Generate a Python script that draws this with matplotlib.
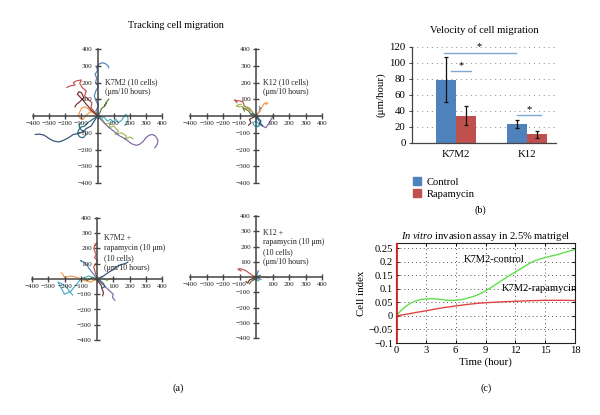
import matplotlib
matplotlib.use("Agg")
import matplotlib.pyplot as plt
from matplotlib.patches import Patch
import numpy as np

plt.rcParams['font.family'] = ['Liberation Serif', 'DejaVu Serif']
plt.rcParams['mathtext.fontset'] = 'custom'
plt.rcParams['mathtext.rm'] = 'Liberation Serif'
plt.rcParams['mathtext.it'] = 'Liberation Serif:italic'

# ---------------- data ----------------
track_ticks = [-400, -300, -200, -100, 0, 100, 200, 300, 400]
track_colors = ['#4F81BD', '#C0504D', '#9BBB59', '#8064A2', '#4BACC6',
                '#F79646', '#2C4D75', '#772C2A', '#5F7530', '#276A7C']

# (x list, y list) per cell, micrometres over 10 hours
k7m2_tracks = [
    ([0, -10, 5, -8, -20, -10, 5, -12, -5, -15, 0, -5, 10, 30, 50, 65, 70],
     [0, 30, 60, 90, 120, 150, 175, 200, 225, 250, 270, 290, 310, 318, 312, 300, 288]),
    ([0, -20, -40, -35, -60, -80, -70, -95, -110, -100, -130, -150, -140, -170, -190],
     [0, 25, 50, 80, 100, 120, 150, 170, 195, 215, 210, 200, 185, 180, 170]),
    ([0, 30, 50, 80, 70, 100, 130, 110, 150, 180, 170, 200, 220],
     [0, -20, -50, -40, -70, -60, -90, -110, -100, -120, -140, -125, -135]),
    ([0, 30, 60, 100, 130, 160, 190, 210, 240, 260, 285, 300, 320, 340, 360, 375, 370, 355],
     [0, -30, -60, -90, -115, -130, -150, -165, -175, -170, -150, -130, -115, -110, -120, -145, -170, -190]),
    ([0, 20, 40, 60, 80, 100, 115, 130, 150, 160, 175, 185, 190, 180, 170],
     [0, -15, -5, -30, -20, -35, -20, -40, -25, -10, 10, 0, -25, -40, -55]),
    ([0, -20, -40, -60, -80, -100, -110, -120, -105, -90, -70, -50, -30],
     [0, 15, 25, 45, 55, 45, 25, 0, -15, -20, 5, 20, 35]),
    ([0, -20, -40, -70, -90, -120, -150, -180, -210, -240, -270, -300, -330, -360, -385],
     [0, -30, -60, -75, -95, -105, -110, -130, -145, -155, -150, -135, -115, -108, -110]),
    ([0, -20, -40, -55, -70, -90, -110, -125, -115, -100, -85, -110, -130, -140],
     [0, 20, 35, 55, 70, 95, 115, 130, 145, 140, 110, 85, 70, 55]),
    ([0, 15, 25, 40, 55, 45, 60, 70],
     [0, 20, 45, 55, 80, 60, 90, 100]),
    ([0, -30, -60, -80, -100, -115, -125, -110, -90, -70, -80, -100, -115, -105],
     [0, -20, -40, -60, -65, -80, -105, -125, -130, -110, -90, -85, -60, -40]),
]
k12_tracks = [
    ([0, 10, 25, 20, 30, 20], [0, 15, 30, 40, 45, 55]),
    ([0, -20, -35, -50, -70, -80, -100, -120, -130, -115],
     [0, 20, 35, 50, 60, 85, 90, 92, 96, 80]),
    ([0, -20, -40, -55, -70, -100, -120, -105, -90],
     [0, 20, 50, 45, 60, 55, 60, 68, 70]),
    ([0, 20, 40, 60, 80, 95, 105], [0, -30, -60, -70, -40, -15, 5]),
    ([0, 10, 30, 20, -10, -20, 0, 20, 10], [0, -20, -40, -60, -60, -40, -30, -50, -65]),
    ([0, 15, 30, 40, 50, 65, 70, 60], [0, 20, 40, 60, 75, 80, 75, 70]),
    ([0, 15, 30, 20, 40], [0, -15, -30, -45, -60]),
    ([0, -20, -40, -30, -45], [0, -10, -20, -40, -55]),
    ([0, -30, -45, -60, -80, -70], [0, 10, 30, 40, 50, 30]),
    ([0, -10, -20, -30], [0, 5, 15, 10]),
]
k7m2_rapa_tracks = [
    ([0, -20, -35, -50, -60, -80, -100, -90], [0, 30, 50, 70, 90, 110, 120, 115]),
    ([0, -10, -20, 5, -15, -5, -20, -10, 0, -15], [0, 40, 80, 120, 140, 160, 200, 230, 235, 215]),
    ([0, 30, 60, 90, 110], [0, 10, -10, 5, 0]),
    ([0, 30, 60, 80, 100, 95, 110], [0, -30, -60, -80, -100, -120, -140]),
    ([0, -50, -100, -130, -160, -200, -240, -220, -190, -170, -150],
     [0, 20, 0, -40, -80, -100, -20, -30, -50, -80, -105]),
    ([0, -40, -80, -120, -160, -200, -210, -220], [0, -20, -10, 10, 20, 10, 30, 40]),
    ([0, 40, 80, 100, 120, 150, 170, 190], [0, 20, 50, 60, 80, 95, 100, 110]),
    ([0, 10, 25, 30, 40, 35], [0, -20, -40, -60, -90, -110]),
    ([0, -30, -60, -80], [0, 10, -10, 5]),
    ([0, 20, 40, 50, 30], [0, -10, -30, -50, -60]),
]
k12_rapa_tracks = [
    ([0, 5, 10, 15], [0, 15, 30, 40]),
    ([0, -20, -40, -60, -80, -100, -110, -90], [0, 10, 25, 40, 50, 55, 50, 40]),
    ([0, 20, 40, 60, 80], [0, -5, 0, -3, -5]),
    ([0, 15, 30], [0, -10, -15]),
    ([0, 10, 20, 10], [0, -10, -20, -25]),
    ([0, -10, -20], [0, 10, 5]),
    ([0, -5, -15], [0, -15, -20]),
    ([0, -20, -40, -50, -60], [0, -10, -20, -40, -30]),
    ([0, -15, -30, -40], [0, -15, -30, -45]),
    ([0, 10, 25], [0, 5, 10]),
]

vel_categories = ['K7M2', 'K12']
vel_control = [79, 24]
vel_control_err = [28, 5]
vel_rapa = [34, 11]
vel_rapa_err = [12, 4.5]
vel_ticks = [0, 20, 40, 60, 80, 100, 120]

inv_t_green = [0, 0.5, 1, 1.5, 2, 2.5, 3, 3.5, 4, 4.5, 5, 5.5, 6, 6.5, 7, 7.5, 8, 8.5, 9,
               9.5, 10, 10.5, 11, 11.5, 12, 12.5, 13, 13.5, 14, 14.5, 15, 15.5, 16, 16.5, 17, 17.5, 18]
inv_control = [0, 0.02, 0.036, 0.048, 0.056, 0.061, 0.063, 0.064, 0.063, 0.061, 0.059, 0.058,
               0.058, 0.06, 0.064, 0.069, 0.075, 0.083, 0.093, 0.104, 0.116, 0.128, 0.14, 0.152,
               0.163, 0.174, 0.185, 0.196, 0.205, 0.211, 0.216, 0.221, 0.225, 0.23, 0.236, 0.241, 0.246]
inv_t_red = [0, 1, 2, 3, 4, 5, 6, 7, 8, 9, 10, 11, 12, 13, 14, 15, 16, 17, 18]
inv_rapa = [0, 0.006, 0.013, 0.019, 0.026, 0.032, 0.037, 0.042, 0.046, 0.049, 0.051,
            0.053, 0.054, 0.056, 0.057, 0.058, 0.058, 0.058, 0.057]
inv_xticks = [0, 3, 6, 9, 12, 15, 18]
inv_yticks = [-0.1, -0.05, 0, 0.05, 0.1, 0.15, 0.2, 0.25]
inv_yticklabels = ['\u22120.1', '\u22120.05', '0', '0.05', '0.1', '0.15', '0.2', '0.25']

# ---------------- figure ----------------
W, H = 600, 415
fig = plt.figure(figsize=(6.0, 4.15), dpi=100)

def rect(l, t, r, b):
    return [l / W, 1 - b / H, (r - l) / W, (b - t) / H]

def fx(x):
    return x / W

def fy(y):
    return 1 - y / H

axis_col = '#444444'

def track_axes(r, tracks):
    ax = fig.add_axes(r)
    for i, (xs, ys) in enumerate(tracks):
        ax.plot(xs, ys, color=track_colors[i % len(track_colors)], lw=0.85, zorder=1)
    ax.set_xlim(-400, 400)
    ax.set_ylim(-400, 400)
    ax.spines['left'].set_position(('data', 0))
    ax.spines['bottom'].set_position(('data', 0))
    for s in ['top', 'right']:
        ax.spines[s].set_visible(False)
    for s in ['left', 'bottom']:
        ax.spines[s].set_color(axis_col)
        ax.spines[s].set_linewidth(1.1)
        ax.spines[s].set_zorder(3)
    ax.set_xticks(track_ticks)
    ax.set_yticks(track_ticks)
    lab = ['' if v == 0 else ('\u2212%d' % -v if v < 0 else str(v)) for v in track_ticks]
    ax.set_xticklabels(lab)
    ax.set_yticklabels(lab)
    ax.tick_params(direction='inout', length=4.5, width=1.0, color=axis_col,
                   labelsize=5.2, pad=1.5, labelcolor='#222222')
    ax.patch.set_alpha(0)
    return ax

ax1 = track_axes(rect(33, 49, 162, 183), k7m2_tracks)
ax1.text(45, 175, 'K7M2 (10 cells)\n(\u03bcm/10 hours)', fontsize=5.8, ha='left', va='center',
         color='#222222', linespacing=1.3)
ax2 = track_axes(rect(190, 49, 322, 183), k12_tracks)
ax2.text(45, 175, 'K12 (10 cells)\n(\u03bcm/10 hours)', fontsize=5.8, ha='left', va='center',
         color='#222222', linespacing=1.3)
ax3 = track_axes(rect(32, 218, 162, 340), k7m2_rapa_tracks)
ax3.text(45, 170, 'K7M2 +\nrapamycin (10 \u03bcm)\n(10 cells)\n(\u03bcm/10 hours)', fontsize=5.8,
         ha='left', va='center', color='#222222', linespacing=1.3)
ax4 = track_axes(rect(190, 216, 322, 338), k12_rapa_tracks)
ax4.text(45, 195, 'K12 +\nrapamycin (10 \u03bcm)\n(10 cells)\n(\u03bcm/10 hours)', fontsize=5.8,
         ha='left', va='center', color='#222222', linespacing=1.3)

fig.text(fx(176), fy(25), 'Tracking cell migration', fontsize=7.3, ha='center', va='center')
fig.text(fx(178), fy(388), '(a)', fontsize=7.3, ha='center', va='center')

# ---------------- panel b ----------------
axb = fig.add_axes(rect(412, 47, 556, 143))
x = np.arange(len(vel_categories))
bw = 0.28
axb.bar(x - bw / 2, vel_control, bw, color='#4F81BD', zorder=2)
axb.bar(x + bw / 2, vel_rapa, bw, color='#C0504D', zorder=2)
axb.errorbar(x - bw / 2, vel_control, yerr=vel_control_err, fmt='none', ecolor='#111111',
             elinewidth=0.9, capsize=1.5, capthick=0.9, zorder=3)
axb.errorbar(x + bw / 2, vel_rapa, yerr=vel_rapa_err, fmt='none', ecolor='#111111',
             elinewidth=0.9, capsize=1.5, capthick=0.9, zorder=3)
axb.set_xlim(-0.62, 1.41)
axb.set_ylim(0, 120)
axb.set_yticks(vel_ticks)
axb.set_xticks(x)
axb.set_xticklabels(vel_categories)
axb.yaxis.grid(True, linestyle=(0, (1, 4)), color='#888888', lw=0.7, zorder=0)
for s in ['top', 'right']:
    axb.spines[s].set_visible(False)
for s in ['left', 'bottom']:
    axb.spines[s].set_color(axis_col)
    axb.spines[s].set_linewidth(0.9)
axb.tick_params(axis='y', length=2.5, width=0.8, color=axis_col, labelsize=7.8, pad=2)
axb.tick_params(axis='x', length=0, labelsize=7.8, pad=5)
axb.set_ylabel('(\u03bcm/hour)', fontsize=7.8, labelpad=3)
sig_col = '#7FA7D4'
axb.plot([-0.17, 0.845], [113, 113], color=sig_col, lw=1.0, clip_on=False)
axb.text(0.33, 114.5, '*', fontsize=7.5, ha='center', va='bottom')
axb.plot([-0.07, 0.21], [89.5, 89.5], color=sig_col, lw=1.0)
axb.text(0.07, 91, '*', fontsize=7.5, ha='center', va='bottom')
axb.plot([0.86, 1.2], [34.5, 34.5], color=sig_col, lw=1.0)
axb.text(1.03, 36, '*', fontsize=7.5, ha='center', va='bottom')
axb.set_title('Velocity of cell migration', fontsize=7.6, pad=10)
leg = axb.legend(handles=[Patch(color='#4F81BD', label='Control'),
                          Patch(color='#C0504D', label='Rapamycin')],
                 loc='upper left', bbox_to_anchor=(fx(408), fy(172)),
                 bbox_transform=fig.transFigure, frameon=False, fontsize=7.6,
                 handlelength=0.7, handleheight=0.7, handletextpad=0.6,
                 labelspacing=0.25, borderpad=0)
fig.text(fx(480), fy(210), '(b)', fontsize=7.3, ha='center', va='center')

# ---------------- panel c ----------------
axc = fig.add_axes(rect(396, 243, 575, 343))
axc.plot(inv_t_green, inv_control, color='#5EE04A', lw=1.0, zorder=3)
axc.plot(inv_t_red, inv_rapa, color='#E04545', lw=1.0, zorder=3)
axc.axvline(0, color='#D42020', lw=2.0, zorder=4)
axc.set_xlim(0, 18)
axc.set_ylim(-0.1, 0.27)
axc.set_xticks(inv_xticks)
axc.set_yticks(inv_yticks)
axc.set_yticklabels(inv_yticklabels)
axc.grid(True, linestyle=(0, (1, 3)), color='#555555', lw=0.7, zorder=0)
for s in axc.spines.values():
    s.set_color('#222222')
    s.set_linewidth(0.8)
axc.tick_params(direction='in', length=2, width=0.7, top=True, right=True,
                labelsize=7.6, pad=2)
axc.set_xlabel('Time (hour)', fontsize=7.8, labelpad=2)
axc.set_ylabel('Cell index', fontsize=7.8, labelpad=2)
axc.text(9.9, 0.21, 'K7M2-control', fontsize=7.6, ha='center', va='center', zorder=5)
axc.text(14.4, 0.1, 'K7M2-rapamycin', fontsize=7.6, ha='center', va='center', zorder=5)
axc.set_title('$\\mathit{In\\ vitro}$ invasion assay in 2.5% matrigel', fontsize=7.6, pad=3)
fig.text(fx(486), fy(388), '(c)', fontsize=7.3, ha='center', va='center')

fig.savefig('out.png', dpi=100)
